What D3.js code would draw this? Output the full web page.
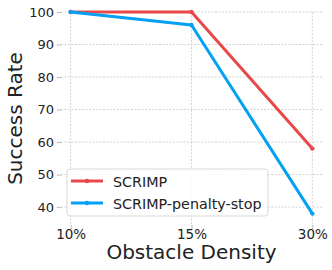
<!DOCTYPE html>
<html>
<head>
<meta charset="utf-8">
<script src="https://cdn.jsdelivr.net/npm/d3@7"></script>
<style>
  body { margin: 0; background: #fff; }
  text { font-family: 'DejaVu Sans', sans-serif; fill: #222; }
</style>
</head>
<body>
<script>
const width = 332
const height = 270

const densities = ['10%', '15%', '30%']
const scrimp = [100, 100, 58]
const penaltyStop = [100, 96, 38]
const yTicks = [40, 50, 60, 70, 80, 90, 100]

const series = [
  { name: 'SCRIMP', values: scrimp, color: '#e84848' },
  { name: 'SCRIMP-penalty-stop', values: penaltyStop, color: '#03a0f4' }
]

const margin = { top: 12, right: 10, bottom: 45, left: 61 }

const x = d3.scalePoint()
  .domain(densities)
  .range([margin.left, width - margin.right])
  .padding(0.08)

const y = d3.scaleLinear()
  .domain([34.5, 100])
  .range([height - margin.bottom, margin.top])

const svg = d3.select('body').append('svg')
  .attr('width', width)
  .attr('height', height)

// grid
svg.append('g')
  .selectAll('line')
  .data(yTicks)
  .enter().append('line')
  .attr('x1', margin.left)
  .attr('x2', width - margin.right)
  .attr('y1', d => y(d))
  .attr('y2', d => y(d))
  .attr('stroke', '#c8c8c8')
  .attr('stroke-width', 0.8)
  .attr('stroke-dasharray', '2,1.5')

svg.append('g')
  .selectAll('line')
  .data(densities)
  .enter().append('line')
  .attr('x1', d => x(d))
  .attr('x2', d => x(d))
  .attr('y1', margin.top)
  .attr('y2', height - margin.bottom)
  .attr('stroke', '#c8c8c8')
  .attr('stroke-width', 0.8)
  .attr('stroke-dasharray', '2,1.5')

// axes
const yAxis = svg.append('g')
  .attr('transform', 'translate(' + margin.left + ',0)')
  .call(d3.axisLeft(y).tickValues(yTicks).tickSize(4).tickPadding(3))
yAxis.select('.domain').remove()
yAxis.selectAll('.tick line').attr('stroke', '#999').attr('stroke-dasharray', '1.5,1')
yAxis.selectAll('text').style('font-size', '13px').attr('fill', '#222')

const xAxis = svg.append('g')
  .attr('transform', 'translate(0,' + (height - margin.bottom) + ')')
  .call(d3.axisBottom(x).tickSize(4).tickPadding(0))
xAxis.select('.domain').remove()
xAxis.selectAll('.tick line').attr('stroke', '#999').attr('stroke-dasharray', '1.5,1')
xAxis.selectAll('text').style('font-size', '13.5px').attr('fill', '#222')

// axis titles
svg.append('text')
  .attr('transform', 'translate(22,' + ((margin.top + height - margin.bottom) / 2) + ') rotate(-90)')
  .attr('text-anchor', 'middle')
  .style('font-size', '20px')
  .text('Success Rate')

svg.append('text')
  .attr('x', (margin.left + width - margin.right) / 2)
  .attr('y', 259)
  .attr('text-anchor', 'middle')
  .style('font-size', '20px')
  .text('Obstacle Density')

// lines
const line = d3.line()
  .x((d, i) => x(densities[i]))
  .y(d => y(d))

series.forEach(function (s) {
  svg.append('path')
    .datum(s.values)
    .attr('d', line)
    .attr('fill', 'none')
    .attr('stroke', s.color)
    .attr('stroke-width', 3)
    .attr('stroke-linejoin', 'round')
  svg.append('g')
    .selectAll('circle')
    .data(s.values)
    .enter().append('circle')
    .attr('cx', (d, i) => x(densities[i]))
    .attr('cy', d => y(d))
    .attr('r', 2.2)
    .attr('fill', s.color)
})

// legend
const legend = svg.append('g').attr('transform', 'translate(67,169)')
legend.append('rect')
  .attr('width', 201)
  .attr('height', 47)
  .attr('rx', 3)
  .attr('fill', 'rgba(255,255,255,0.85)')
  .attr('stroke', '#d8d8d8')
  .attr('stroke-width', 1)

series.forEach(function (s, i) {
  const row = legend.append('g').attr('transform', 'translate(0,' + (12 + i * 22) + ')')
  row.append('line')
    .attr('x1', 4).attr('x2', 36)
    .attr('stroke', s.color)
    .attr('stroke-width', 3)
  row.append('circle')
    .attr('cx', 20).attr('r', 2.2)
    .attr('fill', s.color)
  row.append('text')
    .attr('x', 46)
    .attr('y', 6)
    .style('font-size', '14.3px')
    .text(s.name)
})
</script>
</body>
</html>
